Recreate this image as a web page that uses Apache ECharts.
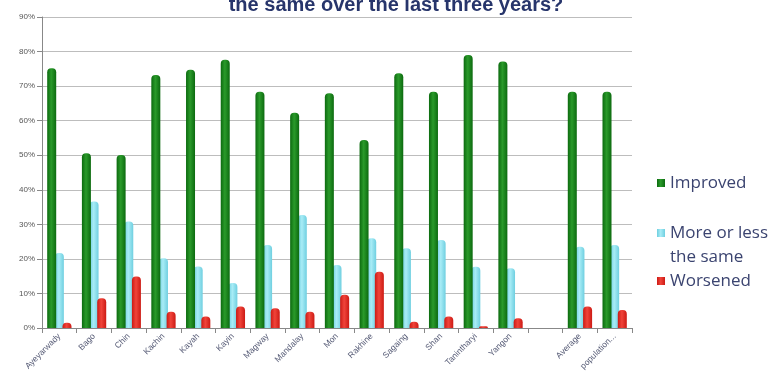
<!DOCTYPE html>
<html><head><meta charset="utf-8">
<script src="https://cdn.jsdelivr.net/npm/echarts@6/dist/echarts.min.js"></script>
<style>html,body{margin:0;padding:0;background:#fff}#c{width:775px;height:383px}</style>
</head><body><div id="c"></div>
<script>
const categories = ['Ayeyarwady','Bago','Chin','Kachin','Kayah','Kayin','Magway','Mandalay','Mon','Rakhine','Sagaing','Shan','Tanintharyi','Yangon','','Average','population...'];
const improved = [75.2,50.6,50.1,73.2,74.7,77.6,68.4,62.3,67.9,54.4,73.7,68.4,79,77.1,null,68.4,68.4];
const sameLevel = [21.7,36.6,30.8,20.2,17.8,13,24,32.7,18.2,26,23.1,25.5,17.7,17.3,null,23.5,24];
const worsened = [1.5,8.6,14.9,4.7,3.3,6.2,5.7,4.7,9.6,16.3,1.8,3.3,0.5,2.8,null,6.2,5.2];
const yTicks = [0,10,20,30,40,50,60,70,80,90];
const seriesNames = ['Improved','More or less\nthe same','Worsened'];

function grad(dark, light){
  return {type:'linear',x:0,y:0,x2:1,y2:0,colorStops:[
    {offset:0,color:dark},{offset:0.45,color:light},{offset:1,color:dark}]};
}
const chart = echarts.init(document.getElementById('c'));
const legendText = {fontSize:17,color:'#3b4470',fontFamily:'Open Sans, DejaVu Sans, sans-serif',lineHeight:24};
const topIcon = 'path://M0,0L8,0L8,8L0,8Z M0,31.9L0.05,31.9L0.05,32L0,32Z';
chart.setOption({
  animation:false,
  title:{text:'the same over the last three years?',left:391,textAlign:'center',top:-10,
    textStyle:{fontSize:20,fontWeight:'bold',color:'#27356b',fontFamily:'Liberation Sans, Arial, sans-serif'}},
  grid:{left:42,right:143,top:17,bottom:55,containLabel:false},
  legend:[
    {data:[seriesNames[0]],left:652,top:166,itemWidth:8,itemHeight:8,icon:'rect',textStyle:legendText},
    {data:[seriesNames[1]],left:652,top:216,itemWidth:8,itemHeight:32,icon:topIcon,textStyle:legendText},
    {data:[seriesNames[2]],left:652,top:264,itemWidth:8,itemHeight:8,icon:'rect',textStyle:legendText}
  ],
  xAxis:{type:'category',data:categories,
    axisLine:{lineStyle:{color:'#888'}},
    axisTick:{show:true,interval:0,lineStyle:{color:'#888'}},
    axisLabel:{interval:0,rotate:45,fontSize:8.5,color:'#555a75',margin:7}},
  yAxis:{type:'value',min:0,max:90,interval:10,
    axisLine:{show:true,lineStyle:{color:'#888'}},
    axisTick:{show:true,lineStyle:{color:'#888'}},
    splitLine:{lineStyle:{color:'#bdbdbd'}},
    axisLabel:{fontSize:8,color:'#555',margin:7,formatter:function(v){return yTicks.indexOf(v)>=0? v+'%':'';}}},
  series:[
    {name:seriesNames[0],type:'bar',data:improved,barWidth:9,barGap:'-15%',
      itemStyle:{color:grad('#0c6a0f','#2a9a2a'),borderRadius:[4,4,0,0]}},
    {name:seriesNames[1],type:'bar',data:sameLevel,barWidth:9,barGap:'-15%',z:1,
      itemStyle:{color:grad('#6fcfe0','#a8ecf6'),borderRadius:[4,4,0,0]}},
    {name:seriesNames[2],type:'bar',data:worsened,barWidth:9,barGap:'-15%',
      itemStyle:{color:grad('#cc1a14','#f0443a'),borderRadius:[4,4,0,0]}}
  ],
  color:['#1b8a1e','#86dcee','#e3261f']
});
</script></body></html>
